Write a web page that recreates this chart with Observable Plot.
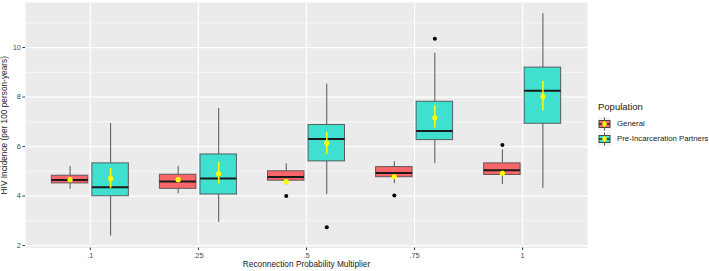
<!DOCTYPE html>
<html>
<head>
<meta charset="utf-8">
<script src="https://cdn.jsdelivr.net/npm/d3@7"></script>
<script src="https://cdn.jsdelivr.net/npm/@observablehq/plot@0.6"></script>
<style>
  body { margin: 0; background: #fff; font-family: "Liberation Sans", Arial, sans-serif; }
  #wrap { position: relative; width: 709px; height: 271px; }
  #legend { position: absolute; left: 598px; top: 101px; font-size: 9.5px; color: #1a1a1a; }
  #legend .title { font-size: 9.5px; margin-bottom: 4px; }
  #legend .row { display: flex; align-items: center; height: 15px; font-size: 7.8px; color: #1a1a1a; }
  #legend svg { margin-right: 6px; }
</style>
</head>
<body>
<div id="wrap"></div>
<script>
const categories = [".1", ".25", ".5", ".75", "1"];
const populations = ["General", "Pre-Incarceration Partners"];
const popColors = ["#F8666A", "#40E0D0"];

// General population
const genWhiskerLo = [4.27, 4.09, 4.45, 4.50, 4.47];
const genQ1        = [4.51, 4.29, 4.62, 4.76, 4.85];
const genMedian    = [4.65, 4.59, 4.77, 4.93, 5.04];
const genQ3        = [4.82, 4.86, 5.00, 5.17, 5.32];
const genWhiskerHi = [5.19, 5.20, 5.30, 5.39, 5.86];
const genMean      = [4.66, 4.66, 4.58, 4.78, 4.92];
const genMeanLo    = [4.58, 4.58, 4.50, 4.70, 4.84];
const genMeanHi    = [4.74, 4.74, 4.66, 4.86, 5.00];
const genOutliers  = [[], [], [4.00], [4.02], [6.06]];

// Pre-Incarceration Partners
const preWhiskerLo = [2.38, 2.94, 4.06, 5.31, 4.31];
const preQ1        = [3.99, 4.06, 5.40, 6.26, 6.92];
const preMedian    = [4.35, 4.71, 6.30, 6.63, 8.25];
const preQ3        = [5.32, 5.68, 6.87, 7.81, 9.19];
const preWhiskerHi = [6.93, 7.54, 8.52, 9.77, 11.37];
const preMean      = [4.71, 4.90, 6.14, 7.16, 8.02];
const preMeanLo    = [4.31, 4.49, 5.68, 6.75, 7.45];
const preMeanHi    = [5.12, 5.36, 6.57, 7.65, 8.63];
const preOutliers  = [[], [], [2.74], [10.36], []];

const yTicks = [2, 4, 6, 8, 10];
const yMinor = [3, 5, 7, 9, 11];
const xTitle = "Reconnection Probability Multiplier";
const yTitle = "HIV Incidence (per 100 person-years)";

// build rows
const series = [
  {pop: populations[0], lo: genWhiskerLo, q1: genQ1, med: genMedian, q3: genQ3, hi: genWhiskerHi, mean: genMean, mlo: genMeanLo, mhi: genMeanHi, out: genOutliers},
  {pop: populations[1], lo: preWhiskerLo, q1: preQ1, med: preMedian, q3: preQ3, hi: preWhiskerHi, mean: preMean, mlo: preMeanLo, mhi: preMeanHi, out: preOutliers}
];
const dodge = 0.1875, half = 0.16875;
const rows = [], outRows = [];
series.forEach((s, k) => {
  categories.forEach((c, i) => {
    const cx = i + (k === 0 ? -dodge : dodge);
    rows.push({cat: c, pop: s.pop, cx, lo: s.lo[i], q1: s.q1[i], med: s.med[i], q3: s.q3[i], hi: s.hi[i], mean: s.mean[i], mlo: s.mlo[i], mhi: s.mhi[i]});
    s.out[i].forEach(v => outRows.push({pop: s.pop, cx, v}));
  });
});

const chart = Plot.plot({
  width: 709,
  height: 271,
  marginLeft: 25,
  marginRight: 122,
  marginTop: 2,
  marginBottom: 23.5,
  style: {fontFamily: "Liberation Sans, Arial, sans-serif", background: "white"},
  x: {type: "linear", domain: [-0.6, 4.6]},
  y: {domain: [1.9, 11.82]},
  color: {domain: populations, range: popColors},
  marks: [
    Plot.frame({fill: "#EBEBEB", stroke: "none"}),
    Plot.gridY(yMinor, {stroke: "white", strokeOpacity: 1, strokeWidth: 0.6}),
    Plot.gridY(yTicks, {stroke: "white", strokeOpacity: 1, strokeWidth: 1.2}),
    Plot.gridX([0, 1, 2, 3, 4], {stroke: "white", strokeOpacity: 1, strokeWidth: 1.2}),
    Plot.axisY(yTicks, {tickSize: 2.5, tickPadding: 2, fontSize: 7.5, color: "#4D4D4D", stroke: "#333", label: null}),
    Plot.axisY([], {label: yTitle, fontSize: 8.3, color: "#1a1a1a", labelAnchor: "center", labelArrow: "none", labelOffset: 24}),
    Plot.axisX([0, 1, 2, 3, 4], {tickSize: 2.5, tickPadding: 2, fontSize: 7.5, color: "#4D4D4D", stroke: "#333",
      tickFormat: i => categories[i], label: null}),
    Plot.axisX([], {label: xTitle, fontSize: 8.3, color: "#1a1a1a", labelAnchor: "center", labelArrow: "none", labelOffset: 19}),
    // whiskers
    Plot.ruleX(rows, {x: "cx", y1: "lo", y2: "q1", stroke: "#555", strokeWidth: 1}),
    Plot.ruleX(rows, {x: "cx", y1: "q3", y2: "hi", stroke: "#555", strokeWidth: 1}),
    // boxes
    Plot.rect(rows, {x1: d => d.cx - half, x2: d => d.cx + half, y1: "q1", y2: "q3", fill: "pop", stroke: "#4a4a4a", strokeWidth: 1, strokeOpacity: 0.85}),
    // medians
    Plot.ruleY(rows, {y: "med", x1: d => d.cx - half, x2: d => d.cx + half, stroke: "#1a1a1a", strokeWidth: 2}),
    // outliers
    Plot.dot(outRows, {x: "cx", y: "v", r: 2, fill: "black", stroke: "none"}),
    // mean +- se
    Plot.ruleX(rows, {x: "cx", y1: "mlo", y2: "mhi", stroke: "#FFFF00", strokeWidth: 1.5}),
    Plot.dot(rows, {x: "cx", y: "mean", r: 2.6, fill: "#FFFF00", stroke: "none"})
  ]
});

const wrap = document.getElementById("wrap");
wrap.appendChild(chart);

// legend
const legend = document.createElement("div");
legend.id = "legend";
let html = '<div class="title">Population</div>';
populations.forEach((p, k) => {
  html += `<div class="row"><svg width="13" height="14">
    <rect x="0" y="0" width="13" height="14" fill="#F2F2F2"/>
    <line x1="6.5" y1="0.5" x2="6.5" y2="13.5" stroke="#555" stroke-width="1"/>
    <rect x="1" y="3.5" width="11" height="7" fill="${popColors[k]}" stroke="#4a4a4a" stroke-width="1"/>
    <line x1="1" y1="7" x2="12" y2="7" stroke="#1a1a1a" stroke-width="1.3"/>
    <line x1="6.5" y1="4" x2="6.5" y2="10" stroke="#FFFF00" stroke-width="1.2"/>
    <circle cx="6.5" cy="7" r="2.3" fill="#FFFF00"/>
  </svg><span>${p}</span></div>`;
});
legend.innerHTML = html;
wrap.appendChild(legend);
</script>
</body>
</html>
